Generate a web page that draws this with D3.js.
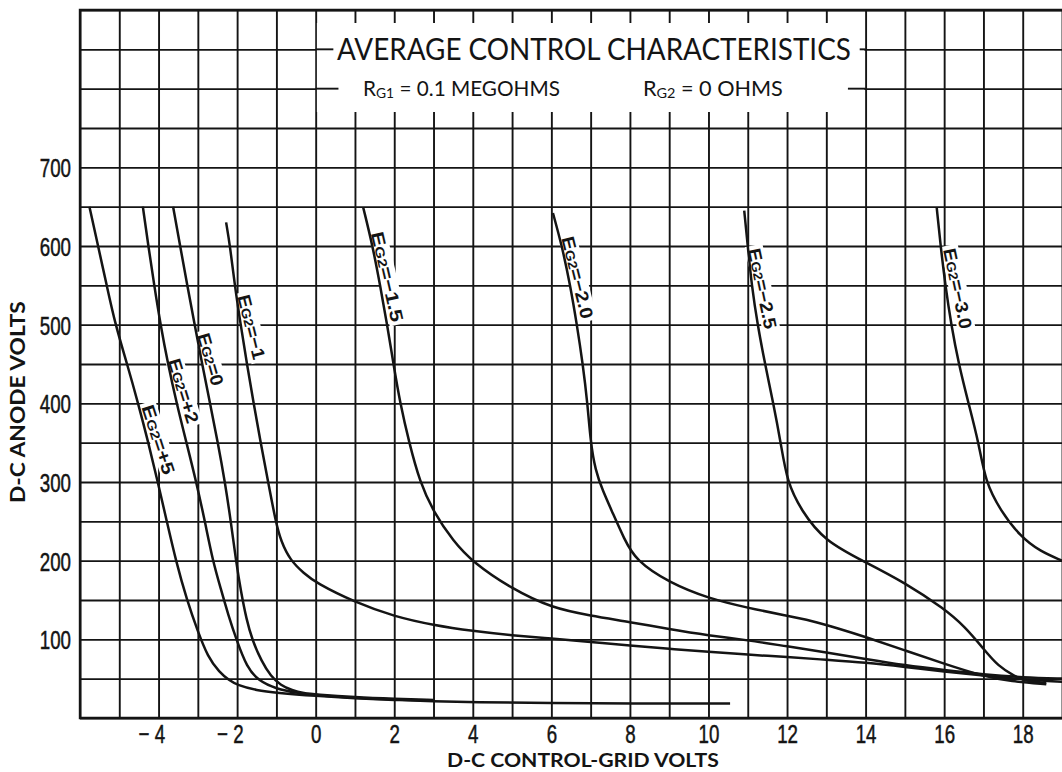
<!DOCTYPE html>
<html>
<head>
<meta charset="utf-8">
<script src="https://cdn.jsdelivr.net/npm/d3@7"></script>
<style>
  body { margin: 0; background: #fff; }
  svg { display: block; }
</style>
</head>
<body>
<div id="chart"></div>
<script>
// tick labels
var xTicks = [-4, -2, 0, 2, 4, 6, 8, 10, 12, 14, 16, 18];
var yTicks = [100, 200, 300, 400, 500, 600, 700];

// curves: [control-grid volts, anode volts]
var eg2Plus5 = [[-5.76, 650], [-5.54, 600], [-5.32, 550], [-5.1, 500], [-4.8, 450], [-4.52, 400],
  [-4.26, 350], [-4.02, 300], [-3.79, 250], [-3.56, 200], [-3.28, 150], [-3.0, 110], [-2.75, 78],
  [-2.45, 58], [-2.2, 48], [-2.0, 42], [-1.5, 35], [-1, 32], [0, 28], [1, 25], [2, 23], [3, 21],
  [4, 20], [6, 19], [8, 18.5], [10.55, 18.5]];
var eg2Plus2 = [[-4.4, 650], [-4.26, 600], [-4.11, 550], [-3.95, 500], [-3.76, 450], [-3.54, 400],
  [-3.29, 350], [-3.04, 300], [-2.82, 250], [-2.62, 200], [-2.42, 165], [-2.22, 130], [-2.02, 100],
  [-1.75, 64], [-1.45, 47], [-1, 37], [-0.5, 32], [0, 29], [1, 25.5], [2, 23.5], [3, 22]];
var eg2Zero = [[-3.63, 650], [-3.45, 600], [-3.27, 550], [-3.08, 500], [-2.89, 450], [-2.69, 400],
  [-2.49, 350], [-2.31, 300], [-2.16, 250], [-2.03, 200], [-1.9, 160], [-1.76, 125], [-1.62, 100],
  [-1.38, 72], [-1.14, 53], [-0.9, 42], [-0.6, 35], [-0.3, 31.5], [0, 30], [1, 26.5], [2, 24.5],
  [3, 23]];
var eg2Minus1 = [[-2.28, 630], [-2.18, 600], [-2.06, 550], [-1.91, 500], [-1.75, 450], [-1.58, 400],
  [-1.4, 350], [-1.21, 300], [-1.02, 250], [-0.88, 224], [-0.64, 200], [-0.3, 184], [0, 172],
  [1, 147], [2, 129], [3, 118], [4, 110.5], [5, 105], [6, 101], [7, 96.6], [8, 92], [9, 88],
  [10, 84], [11, 80.5], [12, 77.5], [13, 74], [14, 70.5], [15, 65], [16, 59], [17, 54], [18, 49],
  [19.05, 46]];
var eg2Minus15 = [[1.21, 649], [1.45, 600], [1.64, 550], [1.82, 500], [1.98, 450], [2.15, 400],
  [2.38, 350], [2.65, 300], [3.0, 262], [3.5, 225], [4, 198], [5, 164], [6, 140], [7, 130],
  [8, 122], [9, 113], [10, 105], [11, 99], [12, 91], [13, 83.5], [14, 75], [15, 67], [16, 61],
  [17, 55.5], [18, 51.5], [19.05, 50]];
var eg2Minus20 = [[6.04, 642], [6.27, 600], [6.48, 550], [6.65, 500], [6.8, 450], [6.92, 400],
  [7.0, 350], [7.12, 315], [7.3, 290], [7.55, 262], [7.85, 228], [8.15, 200], [9, 172],
  [10, 152], [11, 140], [12, 130], [12.6, 124], [13.3, 114], [14, 103], [15, 86], [16, 69],
  [17, 53], [17.7, 46.5], [18.6, 43]];
var eg2Minus25 = [[10.91, 645], [11.0, 600], [11.1, 550], [11.25, 500], [11.44, 450], [11.65, 400],
  [11.84, 350], [12.0, 300], [12.36, 264], [12.95, 225], [14, 198], [15, 172], [16, 139],
  [16.53, 116], [17, 88], [17.37, 66], [17.8, 53], [18.05, 47], [18.6, 44.5]];
var eg2Minus30 = [[15.81, 649], [15.91, 600], [16.03, 550], [16.18, 500], [16.37, 450], [16.62, 400],
  [16.88, 350], [17.05, 300], [17.43, 264], [17.95, 230], [18.44, 212], [19.0, 200]];

var curves = [eg2Plus5, eg2Plus2, eg2Zero, eg2Minus1, eg2Minus15, eg2Minus20, eg2Minus25, eg2Minus30];
var curveNames = ["+5", "+2", "0", "\u22121", "\u22121.5", "\u22122.0", "\u22122.5", "\u22123.0"];

// where each name sits along its curve: [volts, anode volts]
var labelSpots = [[-4.0, 354], [-3.36, 416], [-2.67, 456], [-1.63, 497], [1.83, 561], [6.67, 560],
  [11.38, 546], [16.35, 546]];

var width = 1062,
    height = 772;

var svg = d3.select("#chart")
  .append("svg")
  .attr("width", width)
  .attr("height", height);

svg.append("rect")
  .attr("width", width)
  .attr("height", height)
  .attr("fill", "#fff");

var x = d3.scaleLinear().domain([-6, 19]).range([80, 1062]),
    y = d3.scaleLinear().domain([0, 900]).range([718, 10]);

var ink = "#141414";

// squeeze a text horizontally to a given length (narrow print faces)
function squeeze(text, len) {
  var w = text.node().getBBox().width;
  var t = text.attr("transform") || "";
  text.attr("transform", t + " scale(" + (len / w) + ",1)");
}

// ---- grid, one line a volt and one every 50 anode volts
var vGrid = svg.append("g")
  .attr("transform", "translate(0," + y(0) + ")")
  .call(d3.axisBottom(x)
    .tickValues(d3.range(-6, 20))
    .tickSize(-(y(0) - y(900)))
    .tickFormat(""));
var hGrid = svg.append("g")
  .attr("transform", "translate(" + x(-6) + ",0)")
  .call(d3.axisLeft(y)
    .tickValues(d3.range(0, 901, 50))
    .tickSize(-(x(19) - x(-6)))
    .tickFormat(""));
[vGrid, hGrid].forEach(function (g) {
  g.select(".domain").remove();
  g.selectAll("line").attr("stroke", ink).attr("stroke-width", 1.9);
});

// frame edges a bit heavier
svg.append("path")
  .attr("d", "M" + x(19.2) + "," + y(900) + " H" + x(-6) + " V" + y(0) + " H" + x(19.2))
  .attr("fill", "none")
  .attr("stroke", ink)
  .attr("stroke-width", 2.4);

// ---- title box
svg.append("rect")
  .attr("x", x(0) + 1.2)
  .attr("y", y(900) + 13)
  .attr("width", x(14) - x(0) - 2.4)
  .attr("height", y(750) - y(900) - 29)
  .attr("fill", "#fff");

var stubs = [[850, 0, 0.45], [850, 13.85, 14], [800, 0, 0.58], [800, 13.55, 14]];
svg.selectAll(".stub")
  .data(stubs)
  .enter()
  .append("line")
  .attr("class", "stub")
  .attr("x1", d => x(d[1]))
  .attr("x2", d => x(d[2]))
  .attr("y1", d => y(d[0]))
  .attr("y2", d => y(d[0]))
  .attr("stroke", ink)
  .attr("stroke-width", 1.9);

var title = svg.append("text")
  .attr("transform", "translate(337,60)")
  .style("font-family", "Lato, 'Open Sans', sans-serif")
  .style("font-size", "30px")
  .attr("fill", ink)
  .text("AVERAGE CONTROL CHARACTERISTICS");
squeeze(title, 514);

function resistor(sub, rest, left, len) {
  var t = svg.append("text")
    .attr("transform", "translate(" + left + ",96)")
    .style("font-family", "Lato, 'Open Sans', sans-serif")
    .style("font-size", "21px")
    .attr("fill", ink);
  t.append("tspan").text("R");
  t.append("tspan").style("font-size", "14px").attr("dy", 2).text(sub);
  t.append("tspan").attr("dy", -2).text(rest);
  squeeze(t, len);
}
resistor("G1", " = 0.1 MEGOHMS", 363, 197);
resistor("G2", " = 0 OHMS", 643, 140);

// ---- curve names, with a white patch knocked out of the grid
var tagLengths = [72, 67, 54, 66, 92, 84, 82, 82],
    tagAngles = [72, 73, 74, 76, 77, 76, 78, 78];

var tags = svg.selectAll(".tag")
  .data(curveNames)
  .enter()
  .append("g")
  .attr("class", "tag")
  .attr("transform", (d, i) => "translate(" + x(labelSpots[i][0]) + "," + y(labelSpots[i][1]) + ") rotate(" + tagAngles[i] + ")");

tags.append("rect")
  .attr("x", (d, i) => -tagLengths[i] / 2 - 3)
  .attr("y", -9)
  .attr("width", (d, i) => tagLengths[i] + 6)
  .attr("height", 18)
  .attr("fill", "#fff");

tags.each(function (d, i) {
  var t = d3.select(this).append("text")
    .attr("y", 6.5)
    .attr("text-anchor", "middle")
    .style("font-family", "'Liberation Sans', Arial, sans-serif")
    .style("font-weight", "bold")
    .style("font-size", "18px")
    .attr("fill", ink);
  t.append("tspan").text("E");
  t.append("tspan").style("font-size", "13px").text("G2");
  t.append("tspan").text("=" + d);
  squeeze(t, tagLengths[i]);
});

// ---- the curves
var line = d3.line()
  .x(d => x(d[0]))
  .y(d => y(d[1]))
  .curve(d3.curveBasis);

svg.selectAll(".curve")
  .data(curves)
  .enter()
  .append("path")
  .attr("class", "curve")
  .attr("d", line)
  .attr("fill", "none")
  .attr("stroke", ink)
  .attr("stroke-width", 2.5)
  .attr("stroke-linejoin", "round");

// ---- tick labels, narrow figures
var narrow = 0.72;

var xAxis = svg.append("g")
  .attr("transform", "translate(0," + y(0) + ")")
  .call(d3.axisBottom(x)
    .tickValues(xTicks)
    .tickSize(0)
    .tickFormat(d => d < 0 ? "\u2212 " + (-d) : d));
xAxis.select(".domain").remove();
xAxis.selectAll("text")
  .style("font-family", "'Liberation Sans', Arial, sans-serif")
  .style("font-size", "26px")
  .attr("fill", ink)
  .attr("stroke", ink)
  .attr("stroke-width", 0.5)
  .attr("dy", null)
  .attr("y", 25)
  .attr("transform", "scale(" + narrow + ",1)")
  .attr("text-anchor", d => d < 0 ? "end" : "middle")
  .attr("x", d => d < 0 ? 6 / narrow : 0);

var yAxis = svg.append("g")
  .attr("transform", "translate(" + x(-6) + ",0)")
  .call(d3.axisLeft(y)
    .tickValues(yTicks)
    .tickSize(0));
yAxis.select(".domain").remove();
yAxis.selectAll("text")
  .style("font-family", "'Liberation Sans', Arial, sans-serif")
  .style("font-size", "26px")
  .attr("fill", ink)
  .attr("stroke", ink)
  .attr("stroke-width", 0.5)
  .attr("x", -9 / narrow)
  .attr("dy", "0.36em")
  .attr("transform", "scale(" + narrow + ",1)");

// ---- axis titles
var xTitle = svg.append("text")
  .attr("transform", "translate(447,767)")
  .style("font-family", "Lato, 'Open Sans', sans-serif")
  .style("font-weight", "bold")
  .style("font-size", "19px")
  .attr("fill", ink)
  .text("D-C CONTROL-GRID VOLTS");
squeeze(xTitle, 272);

var yTitle = svg.append("text")
  .attr("transform", "translate(25,503) rotate(-90)")
  .style("font-family", "Lato, 'Open Sans', sans-serif")
  .style("font-weight", "bold")
  .style("font-size", "21px")
  .attr("fill", ink)
  .text("D-C ANODE VOLTS");
squeeze(yTitle, 202);
</script>
</body>
</html>
